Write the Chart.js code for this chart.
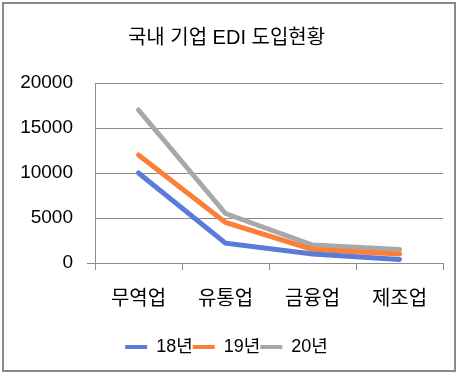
<!DOCTYPE html>
<html>
<head>
<meta charset="utf-8">
<script src="https://cdn.jsdelivr.net/npm/chart.js@4.4.1/dist/chart.umd.min.js"></script>
<style>
  html, body { margin: 0; padding: 0; background: #fff; }
  #wrap { width: 458px; height: 374px; position: relative; }
</style>
</head>
<body>
<div id="wrap"><canvas id="chart" width="458" height="374"></canvas></div>
<script>
// 차트 데이터
const chartTitle = '국내 기업 EDI 도입현황';
const categories = ['무역업', '유통업', '금융업', '제조업'];
const seriesNames = ['18년', '19년', '20년'];
const values18 = [10000, 2200, 1000, 400];
const values19 = [12000, 4500, 1500, 1000];
const values20 = [17000, 5500, 2000, 1500];
const yTicks = [0, 5000, 10000, 15000, 20000];

const colors = ['#5A7BD8', '#FB7F36', '#A8A8A8'];
const fontFamily = "'Liberation Sans', 'Noto Sans CJK KR', sans-serif";
const gridColor = '#8C8C8C';

// 바깥 테두리
const borderPlugin = {
    id: 'outerBorder',
    afterDraw(chart) {
        const c = chart.ctx;
        c.save();
        c.strokeStyle = '#8A8A8A';
        c.lineWidth = 2;
        c.strokeRect(3, 3, 452, 368);
        c.restore();
    }
};

const ctx = document.getElementById('chart');
new Chart(ctx, {
    type: 'line',
    data: {
        labels: categories,
        datasets: [values18, values19, values20].map((vals, i) => ({
            label: seriesNames[i],
            data: vals,
            borderColor: colors[i],
            backgroundColor: colors[i],
            borderWidth: 5,
            borderCapStyle: 'round',
            pointRadius: 0,
            tension: 0
        }))
    },
    options: {
        responsive: false,
        animation: false,
        layout: { padding: { left: 10, right: 15, top: 0, bottom: 8 } },
        plugins: {
            title: {
                display: true,
                text: chartTitle,
                color: '#000',
                font: { family: fontFamily, size: 20, weight: 'normal' },
                padding: { top: 26, bottom: 33 }
            },
            legend: {
                position: 'bottom',
                labels: {
                    color: '#000',
                    font: { family: fontFamily, size: 18 },
                    boxWidth: 22,
                    boxHeight: 4,
                    padding: 0,
                    generateLabels(chart) {
                        return Chart.defaults.plugins.legend.labels.generateLabels(chart)
                            .map(l => Object.assign(l, { lineWidth: 0 }));
                    }
                }
            },
            tooltip: { enabled: false }
        },
        scales: {
            x: {
                offset: true,
                afterFit(axis) { axis.height = 75; },
                grid: {
                    offset: true,
                    drawOnChartArea: false,
                    color: gridColor,
                    tickLength: 7
                },
                border: { color: gridColor },
                ticks: {
                    color: '#000',
                    font: { family: fontFamily, size: 20 },
                    padding: 17
                }
            },
            y: {
                min: 0,
                max: 20000,
                afterBuildTicks(axis) {
                    axis.ticks = yTicks.map(v => ({ value: v }));
                },
                afterFit(axis) { axis.width = 85; },
                grid: {
                    color: gridColor,
                    tickLength: 8,
                    tickColor: c => (c.tick && c.tick.value === 0 ? gridColor : 'rgba(0,0,0,0)')
                },
                border: { color: gridColor },
                ticks: {
                    color: '#000',
                    font: { family: fontFamily, size: 19 },
                    padding: 14,
                    callback: v => String(v)
                }
            }
        }
    },
    plugins: [borderPlugin]
});
</script>
</body>
</html>
